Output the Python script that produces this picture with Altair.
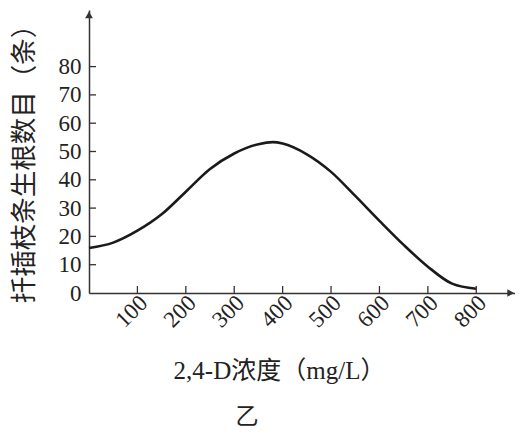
import altair as alt
import pandas as pd

# data
conc = [0, 50, 100, 150, 200, 250, 300, 350, 380, 400, 450, 500, 550, 600, 650, 700, 750, 800]
roots = [15.9, 17.8, 22.0, 27.8, 35.8, 43.8, 49.3, 52.6, 53.3, 52.8, 49.0, 42.8, 34.3, 25.5, 17.0, 9.3, 3.3, 1.5]
x_ticks = [100, 200, 300, 400, 500, 600, 700, 800]
y_ticks = [10, 20, 30, 40, 50, 60, 70, 80]
y_labels = [0, 10, 20, 30, 40, 50, 60, 70, 80]

NUM_FONT = "Liberation Serif, DejaVu Serif, serif"
FONT = "Liberation Serif, DejaVu Serif, Noto Sans CJK SC, serif"
INK = "#333333"
W, H = 426, 283

xs = alt.Scale(domain=[0, 880], nice=False, zero=True)
ys = alt.Scale(domain=[0, 100], nice=False, zero=True)

x_axis = alt.Axis(
    values=x_ticks, labelAngle=-45, labelAlign="right", labelBaseline="middle",
    labelPadding=6, labelOffset=6, ticks=False, grid=False,
    domainColor=INK, domainWidth=1.5,
    labelFont=NUM_FONT, labelFontSize=23, labelColor="#222",
    title="2,4-D浓度（mg/L）", titleFont=FONT, titleFontSize=25, titleFontWeight="normal",
    titleColor="#222", titleX=190, titleY=77, titleBaseline="middle", titleAlign="center",
)
y_axis = alt.Axis(
    values=y_labels, ticks=False, grid=False, labelPadding=8,
    domainColor=INK, domainWidth=1.5,
    labelFont=NUM_FONT, labelFontSize=23, labelColor="#222",
    title="扦插枝条生根数目（条）", titleFont=FONT, titleFontSize=26.5, titleFontWeight="normal",
    titleColor="#222", titleAngle=-90, titleX=-65, titleY=147,
    titleBaseline="middle", titleAlign="center",
)

curve_df = pd.DataFrame({"x": conc, "y": roots})
xt_df = pd.DataFrame({"x": x_ticks})
yt_df = pd.DataFrame({"y": y_ticks})

curve = alt.Chart(curve_df).mark_line(
    color="#1a1a1a", strokeWidth=2.6, interpolate="monotone"
).encode(
    x=alt.X("x:Q", scale=xs, axis=x_axis),
    y=alt.Y("y:Q", scale=ys, axis=y_axis),
)

xticks = alt.Chart(xt_df).mark_rule(color=INK, strokeWidth=1.3).encode(
    x=alt.X("x:Q", scale=xs, axis=x_axis),
    y=alt.value(H),
    y2=alt.value(H - 7),
)

yticks = alt.Chart(yt_df).mark_rule(color=INK, strokeWidth=1.3).encode(
    y=alt.Y("y:Q", scale=ys, axis=y_axis),
    x=alt.value(0),
    x2=alt.value(7),
)

arrow_x = alt.Chart(pd.DataFrame({"x": [871], "y": [0]})).mark_point(
    shape="triangle-right", filled=True, color=INK, size=60, opacity=1
).encode(x=alt.X("x:Q", scale=xs, axis=x_axis), y=alt.Y("y:Q", scale=ys, axis=y_axis))

arrow_y = alt.Chart(pd.DataFrame({"x": [0], "y": [98.3]})).mark_point(
    shape="triangle-up", filled=True, color=INK, size=60, opacity=1
).encode(x=alt.X("x:Q", scale=xs, axis=x_axis), y=alt.Y("y:Q", scale=ys, axis=y_axis))

label = alt.Chart(pd.DataFrame({"t": ["乙"]})).mark_text(
    font=FONT, fontSize=23, color="#222", align="center", baseline="middle"
).encode(text="t:N", x=alt.value(158), y=alt.value(407))

chart = alt.layer(curve, xticks, yticks, arrow_x, arrow_y, label).properties(
    width=W, height=H,
    autosize=alt.AutoSizeParams(type="none"),
    padding={"left": 81, "top": 2, "right": 0, "bottom": 140},
).configure_view(stroke=None)

chart.save("out.html", embed_options={"renderer": "svg", "actions": False})
